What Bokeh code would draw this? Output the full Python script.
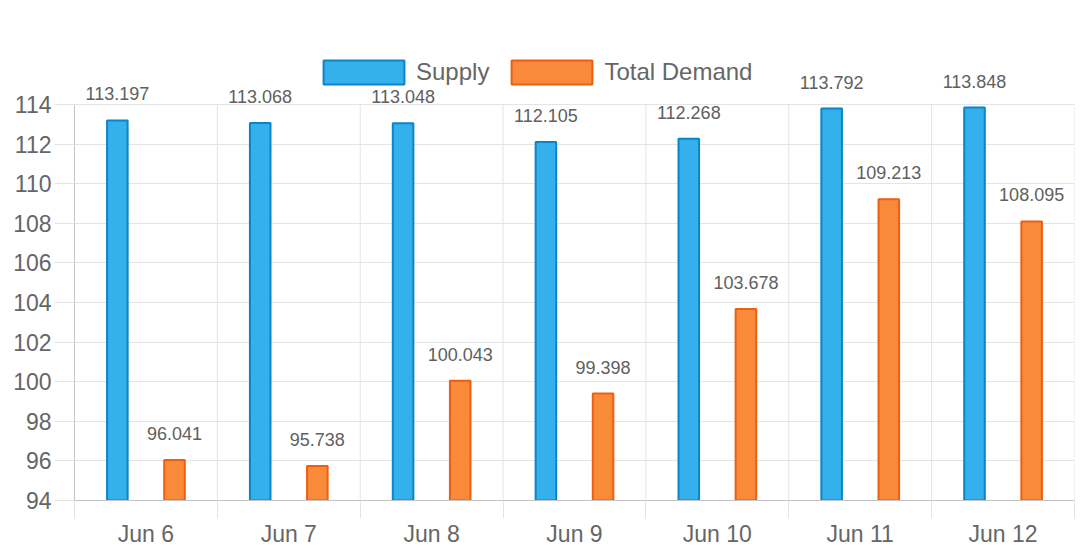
from bokeh.plotting import figure
from bokeh.models import ColumnDataSource, FixedTicker, Range1d, Legend, LegendItem, LabelSet
from bokeh.core.properties import value
from bokeh.embed import file_html
from bokeh.resources import INLINE

dates = ["Jun 6", "Jun 7", "Jun 8", "Jun 9", "Jun 10", "Jun 11", "Jun 12"]
supply = [113.197, 113.068, 113.048, 112.105, 112.268, 113.792, 113.848]
demand = [96.041, 95.738, 100.043, 99.398, 103.678, 109.213, 108.095]
y_ticks = [94, 96, 98, 100, 102, 104, 106, 108, 110, 112, 114]

FONT = "Liberation Sans"
TXT = "#666666"
GRID = "#e4e4e4"
AXIS = "#c4c4c4"
Y_MIN, Y_MAX = 94, 114
# 114 sits at 104 px, 94 at 500 px; frame extended to 50 px for legend/labels
Y_TOP = Y_MAX + (104 - 50) * (Y_MAX - Y_MIN) / (500 - 104)

n = len(dates)
idx = list(range(n))
bounds = list(range(n + 1))
src_s = ColumnDataSource(dict(x=[i + 0.3 for i in idx], top=supply, lab=[str(v) for v in supply]))
src_d = ColumnDataSource(dict(x=[i + 0.7 for i in idx], top=demand, lab=[str(v) for v in demand]))

p = figure(width=1080, height=560, output_backend="svg", toolbar_location=None,
           x_range=Range1d(0, n), y_range=Range1d(Y_MIN, Y_TOP),
           min_border_left=74, min_border_right=6, min_border_top=50, min_border_bottom=60)
p.outline_line_color = None
p.background_fill_color = "white"
p.border_fill_color = "white"

# vertical category grid lines, limited to the value range
p.segment(x0=bounds, y0=[Y_MIN] * len(bounds), x1=bounds, y1=[Y_MAX] * len(bounds),
          line_color=GRID, line_width=1)

BW = 0.144
r1 = p.vbar(x="x", top="top", bottom=Y_MIN, width=BW, source=src_s,
            fill_color="#34b0ec", line_color="#0a85c8", line_width=2)
r2 = p.vbar(x="x", top="top", bottom=Y_MIN, width=BW, source=src_d,
            fill_color="#f98a3a", line_color="#ec5e10", line_width=2)

for src in (src_s, src_d):
    p.add_layout(LabelSet(x="x", y="top", text="lab", source=src, text_align="center",
                          text_baseline="alphabetic", y_offset=20,
                          text_font=value(FONT), text_font_size=value("18px"),
                          text_color=value("#606060")))

# x axis
xt = FixedTicker(ticks=[i + 0.5 for i in idx], minor_ticks=bounds)
p.xaxis.ticker = xt
p.xaxis.major_label_overrides = {i + 0.5: d for i, d in zip(idx, dates)}
p.xaxis.major_tick_out = 0
p.xaxis.major_tick_in = 0
p.xaxis.minor_tick_out = 18
p.xaxis.minor_tick_in = 0
p.xaxis.minor_tick_line_color = GRID
p.xaxis.axis_line_color = AXIS
p.xaxis.major_label_standoff = 2
p.xaxis.major_label_text_font = FONT
p.xaxis.major_label_text_font_size = "23px"
p.xaxis.major_label_text_color = TXT
p.xgrid.visible = False

# y axis
p.yaxis.ticker = FixedTicker(ticks=y_ticks, minor_ticks=[])
p.yaxis.bounds = (Y_MIN, Y_MAX)
p.yaxis.major_tick_out = 20
p.yaxis.major_tick_in = 0
p.yaxis.major_tick_line_color = GRID
p.yaxis.minor_tick_line_color = None
p.yaxis.axis_line_color = AXIS
p.yaxis.major_label_standoff = 3
p.yaxis.major_label_text_font = FONT
p.yaxis.major_label_text_font_size = "23px"
p.yaxis.major_label_text_color = TXT
p.ygrid.grid_line_color = GRID

legend = Legend(items=[LegendItem(label="Supply", renderers=[r1]),
                       LegendItem(label="Total Demand", renderers=[r2])],
                orientation="horizontal", location=(239, 413),
                padding=0, margin=0, spacing=12, label_standoff=2,
                glyph_width=101, glyph_height=30, label_height=24,
                label_text_font=FONT, label_text_font_size="24px",
                label_text_color=TXT, background_fill_alpha=0,
                border_line_color=None)
p.add_layout(legend, "center")

open("out.html", "w").write(file_html(p, INLINE))
